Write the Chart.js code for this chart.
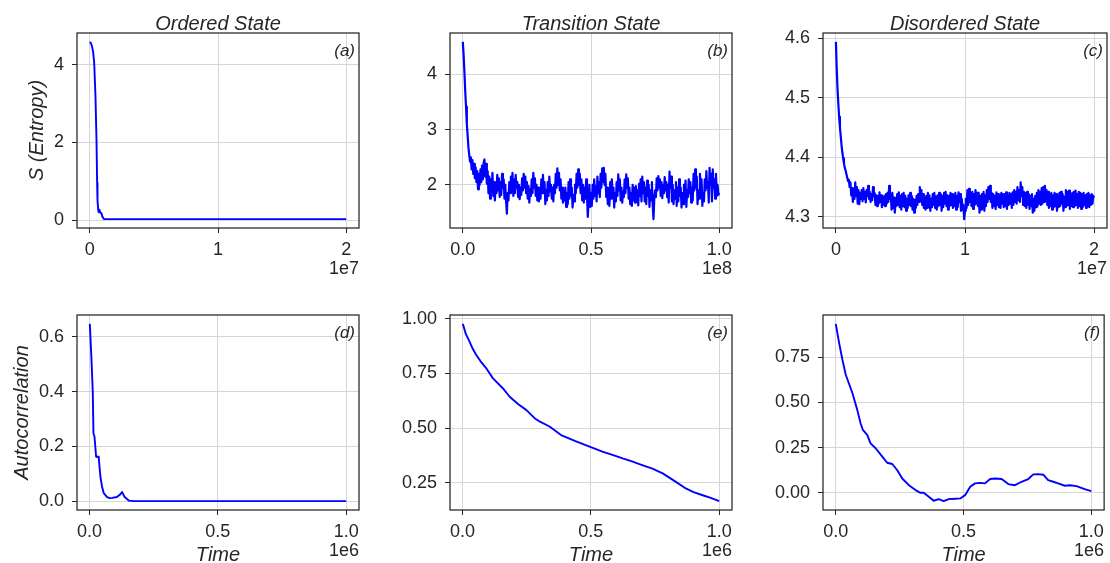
<!DOCTYPE html>
<html>
<head>
<meta charset="utf-8">
<script src="https://cdn.jsdelivr.net/npm/chart.js@4.4.0/dist/chart.umd.min.js"></script>
<style>
  html, body { margin: 0; padding: 0; background: #ffffff; }
  #fig { position: relative; width: 1110px; height: 563px; overflow: hidden; background: #ffffff; }
  #fig canvas { position: absolute; }
</style>
</head>
<body>
<div id="fig"></div>
<script>
// ---------- entropy traces ----------
// Ordered state: entropy vs time (steps)
const orderedTime = [0, 8e4, 1.55e5, 2.2e5, 2.6e5, 3.4e5, 4.4e5, 5.2e5, 5.7e5, 5.8e5,
  6.2e5, 6.7e5, 7.2e5, 7.5e5, 8.0e5, 9.0e5, 9.8e5, 1.1e6, 2.0e6, 2.0e7];
const orderedEntropy = [4.59, 4.56, 4.49, 4.40, 4.32, 4.06, 3.20, 2.08, 0.96, 0.90,
  0.50, 0.22, 0.20, 0.27, 0.20, 0.18, 0.09, 0.03, 0.025, 0.025];

// Transition state: entropy sampled every TRANSITION_DT steps
const TRANSITION_DT = 3.125e5;
const transitionEntropy = [
  4.59, 4.35, 4.05, 3.70, 3.42, 3.10, 2.90, 2.68, 2.55, 2.42, 2.50, 2.28, 2.45, 2.20, 2.38, 2.12,
  2.32, 2.05, 2.25, 1.92, 2.20, 2.00, 2.28, 2.05, 2.35, 2.10, 2.40, 2.46, 2.15, 2.38, 2.02, 2.25,
  1.85, 2.15, 1.75, 2.10, 1.90, 2.22, 1.80, 2.05, 1.72, 2.00, 1.85, 2.18, 1.90, 2.12, 1.78, 2.05,
  1.82, 2.20, 1.95, 2.10, 1.75, 2.00, 1.70, 1.48, 1.85, 1.72, 2.05, 1.85, 2.15, 1.90, 2.22, 1.80,
  2.10, 1.85, 2.18, 1.95, 2.05, 1.78, 2.00, 1.74, 1.95, 1.82, 2.12, 1.90, 2.20, 1.95, 2.15, 1.85,
  2.05, 1.75, 1.98, 1.68, 1.92, 1.80, 2.10, 1.85, 2.22, 1.95, 2.12, 1.80, 2.00, 1.72, 1.95, 1.70,
  1.88, 1.75, 2.10, 1.85, 2.18, 1.90, 2.05, 1.65, 1.90, 1.72, 2.05, 1.80, 2.15, 1.88, 2.00, 1.75,
  1.95, 1.70, 2.00, 1.85, 2.20, 1.95, 2.30, 2.00, 2.22, 1.90, 2.10, 1.75, 1.95, 1.68, 1.85, 1.72,
  1.95, 1.60, 1.85, 1.65, 2.05, 1.75, 2.10, 1.80, 1.95, 1.59, 1.82, 1.70, 2.00, 1.85, 2.20, 1.95,
  2.28, 2.00, 2.20, 1.85, 2.10, 1.72, 2.00, 1.68, 1.95, 1.75, 2.10, 1.80, 1.42, 1.70, 2.00, 1.60,
  1.85, 1.62, 2.00, 1.75, 2.10, 1.80, 1.98, 1.70, 2.15, 1.85, 2.05, 1.78, 2.20, 1.95, 2.30, 2.05,
  2.31, 2.00, 2.20, 1.78, 1.95, 1.65, 1.90, 1.62, 2.05, 1.75, 2.10, 1.82, 1.95, 1.59, 1.85, 1.70,
  2.05, 1.80, 2.19, 1.90, 2.10, 1.72, 1.95, 1.68, 1.88, 1.78, 2.10, 1.85, 2.19, 1.95, 2.12, 1.75,
  1.95, 1.65, 1.85, 1.62, 2.00, 1.72, 1.95, 1.68, 1.98, 1.75, 1.90, 1.63, 2.02, 1.80, 2.10, 1.70,
  2.15, 1.85, 2.05, 1.70, 1.95, 1.65, 2.08, 1.80, 2.00, 1.60, 1.90, 1.72, 2.05, 1.65, 1.38, 1.75,
  1.90, 1.78, 2.12, 1.90, 2.16, 1.95, 2.10, 1.80, 2.05, 1.76, 2.00, 1.85, 2.14, 1.90, 2.05, 1.78,
  2.00, 1.68, 2.24, 1.95, 2.15, 1.70, 2.00, 1.65, 1.90, 1.75, 2.05, 1.62, 1.95, 1.70, 2.10, 1.80,
  1.95, 1.59, 1.85, 1.65, 2.00, 1.75, 2.08, 1.60, 1.90, 1.78, 2.10, 1.85, 2.05, 1.68, 1.95, 1.72,
  2.20, 1.90, 2.28, 1.95, 2.15, 1.65, 1.90, 1.75, 2.20, 1.95, 2.10, 1.62, 1.85, 1.70, 2.10, 1.90,
  2.25, 1.95, 2.05, 1.68, 2.31, 2.00, 2.20, 1.70, 2.28, 1.95, 2.10, 1.75, 2.20, 1.80, 2.00, 1.82,
  1.86
];

// Disordered state: entropy sampled every DISORDERED_DT steps
const DISORDERED_DT = 6.25e4;
const disorderedEntropy = [
  4.594, 4.550, 4.515, 4.490, 4.468, 4.450, 4.435, 4.420, 4.408, 4.398, 4.390, 4.382, 4.378, 4.372, 4.366, 4.360,
  4.362, 4.350, 4.358, 4.336, 4.348, 4.325, 4.345, 4.330, 4.358, 4.335, 4.350, 4.322, 4.345, 4.321, 4.340, 4.330,
  4.345, 4.326, 4.348, 4.330, 4.342, 4.324, 4.345, 4.335, 4.352, 4.330, 4.342, 4.325, 4.338, 4.328, 4.350, 4.335,
  4.340, 4.320, 4.336, 4.318, 4.335, 4.322, 4.341, 4.325, 4.336, 4.316, 4.332, 4.320, 4.335, 4.318, 4.338, 4.322,
  4.340, 4.325, 4.352, 4.330, 4.338, 4.312, 4.340, 4.315, 4.332, 4.307, 4.330, 4.318, 4.338, 4.320, 4.341, 4.316,
  4.335, 4.312, 4.338, 4.318, 4.340, 4.316, 4.335, 4.310, 4.330, 4.315, 4.336, 4.320, 4.340, 4.318, 4.335, 4.312,
  4.330, 4.307, 4.328, 4.315, 4.335, 4.320, 4.338, 4.325, 4.350, 4.330, 4.345, 4.320, 4.338, 4.315, 4.332, 4.312,
  4.335, 4.315, 4.340, 4.318, 4.336, 4.310, 4.330, 4.316, 4.338, 4.320, 4.340, 4.315, 4.334, 4.312, 4.336, 4.318,
  4.340, 4.320, 4.338, 4.310, 4.335, 4.316, 4.340, 4.322, 4.342, 4.318, 4.336, 4.312, 4.335, 4.318, 4.340, 4.320,
  4.338, 4.315, 4.336, 4.318, 4.340, 4.312, 4.335, 4.316, 4.341, 4.325, 4.338, 4.310, 4.330, 4.312, 4.320, 4.296,
  4.310, 4.330, 4.315, 4.345, 4.320, 4.347, 4.325, 4.340, 4.318, 4.342, 4.313, 4.338, 4.320, 4.345, 4.322, 4.340,
  4.318, 4.340, 4.307, 4.335, 4.312, 4.338, 4.315, 4.342, 4.310, 4.336, 4.318, 4.345, 4.325, 4.350, 4.330, 4.352,
  4.325, 4.340, 4.315, 4.338, 4.318, 4.335, 4.313, 4.341, 4.320, 4.338, 4.316, 4.336, 4.315, 4.340, 4.322, 4.338,
  4.316, 4.338, 4.318, 4.341, 4.313, 4.336, 4.320, 4.340, 4.322, 4.338, 4.315, 4.341, 4.320, 4.345, 4.325, 4.342,
  4.322, 4.350, 4.328, 4.345, 4.325, 4.358, 4.335, 4.350, 4.320, 4.342, 4.318, 4.340, 4.315, 4.342, 4.320, 4.338,
  4.313, 4.335, 4.318, 4.338, 4.307, 4.330, 4.310, 4.335, 4.316, 4.340, 4.318, 4.345, 4.322, 4.342, 4.320, 4.348,
  4.322, 4.350, 4.325, 4.352, 4.330, 4.345, 4.320, 4.342, 4.315, 4.338, 4.318, 4.340, 4.312, 4.336, 4.316, 4.340,
  4.318, 4.338, 4.310, 4.335, 4.316, 4.340, 4.318, 4.342, 4.322, 4.338, 4.310, 4.334, 4.316, 4.345, 4.318, 4.342,
  4.320, 4.344, 4.313, 4.338, 4.318, 4.340, 4.316, 4.342, 4.318, 4.344, 4.320, 4.338, 4.315, 4.342, 4.318, 4.340,
  4.313, 4.338, 4.316, 4.340, 4.320, 4.336, 4.315, 4.338, 4.318, 4.340, 4.316, 4.336, 4.320, 4.338, 4.322, 4.335,
  4.332
];

// ---------- autocorrelation curves (lag in steps) ----------
const orderedLag = [1.3e3, 7.8e3, 1.29e4, 1.55e4, 1.94e4, 2.59e4, 3.36e4, 3.62e4, 4.27e4, 4.92e4,
  5.56e4, 6.86e4, 7.89e4, 8.8e4, 1.07e5, 1.18e5, 1.27e5, 1.37e5, 1.53e5, 1.72e5, 1.0e6];
const orderedAcf = [0.647, 0.518, 0.395, 0.248, 0.236, 0.162, 0.162, 0.156, 0.088, 0.052,
  0.029, 0.015, 0.011, 0.012, 0.015, 0.023, 0.033, 0.015, 0.002, 0.0, 0.0];

const transitionLag = [1.3e3, 1.3e4, 2.7e4, 4.0e4, 5.3e4, 7.0e4, 9.2e4, 1.18e5, 1.57e5, 1.83e5,
  2.16e5, 2.48e5, 2.81e5, 3.0e5, 3.39e5, 3.84e5, 4.4e5, 4.95e5, 5.45e5, 5.9e5,
  6.24e5, 6.6e5, 7.0e5, 7.4e5, 7.8e5, 8.3e5, 8.7e5, 9.0e5, 9.36e5, 9.7e5, 1.0e6];
const transitionAcf = [0.976, 0.930, 0.896, 0.862, 0.835, 0.806, 0.774, 0.728, 0.682, 0.644,
  0.610, 0.583, 0.545, 0.530, 0.507, 0.468, 0.440, 0.415, 0.392, 0.375,
  0.361, 0.348, 0.331, 0.315, 0.293, 0.255, 0.224, 0.207, 0.193, 0.180, 0.166];

const disorderedLag = [0, 1.3e4, 2.6e4, 3.9e4, 6.5e4, 8.4e4, 9.7e4, 1.06e5, 1.23e5, 1.36e5,
  1.56e5, 1.82e5, 2.01e5, 2.21e5, 2.40e5, 2.60e5, 2.86e5, 3.12e5, 3.31e5, 3.44e5,
  3.64e5, 3.83e5, 4.03e5, 4.22e5, 4.42e5, 4.68e5, 4.87e5, 5.06e5, 5.26e5, 5.45e5,
  5.65e5, 5.84e5, 6.04e5, 6.23e5, 6.49e5, 6.75e5, 7.01e5, 7.27e5, 7.53e5, 7.73e5,
  7.92e5, 8.12e5, 8.31e5, 8.51e5, 8.70e5, 8.96e5, 9.16e5, 9.42e5, 9.74e5, 1.0e6];
const disorderedAcf = [0.933, 0.828, 0.735, 0.652, 0.551, 0.458, 0.384, 0.347, 0.320, 0.273,
  0.246, 0.200, 0.166, 0.159, 0.126, 0.079, 0.042, 0.015, 0.000, 0.000,
  -0.022, -0.044, -0.035, -0.046, -0.035, -0.033, -0.031, -0.013, 0.033, 0.052,
  0.055, 0.052, 0.076, 0.079, 0.076, 0.048, 0.042, 0.061, 0.076, 0.102,
  0.103, 0.100, 0.070, 0.061, 0.052, 0.039, 0.042, 0.037, 0.020, 0.009];

// ---------- tick positions and labels ----------
const ticks2e7 = [0, 1e7, 2e7];
const ticks2e7Labels = ['0', '1', '2'];
const ticks1e8 = [0, 5e7, 1e8];
const ticks1e8Labels = ['0.0', '0.5', '1.0'];
const ticks1e6 = [0, 5e5, 1e6];
const ticks1e6Labels = ['0.0', '0.5', '1.0'];

const yTicksOrdered = [0, 2, 4];
const yLabelsOrdered = ['0', '2', '4'];
const yTicksTransition = [2, 3, 4];
const yLabelsTransition = ['2', '3', '4'];
const yTicksDisordered = [4.3, 4.4, 4.5, 4.6];
const yLabelsDisordered = ['4.3', '4.4', '4.5', '4.6'];
const yTicksAcfOrdered = [0, 0.2, 0.4, 0.6];
const yLabelsAcfOrdered = ['0.0', '0.2', '0.4', '0.6'];
const yTicksAcfTransition = [0.25, 0.5, 0.75, 1.0];
const yLabelsAcfTransition = ['0.25', '0.50', '0.75', '1.00'];
const yTicksAcfDisordered = [0, 0.25, 0.5, 0.75];
const yLabelsAcfDisordered = ['0.00', '0.25', '0.50', '0.75'];

// ---------- styling ----------
const FONT = "'Liberation Sans', Arial, Helvetica, sans-serif";
const INK = '#262626';
const GRID = '#d6d6d6';
const LINE = '#0000ff';

function sampledTimes(values, dt) {
  return values.map((_, i) => i * dt);
}

// matplotlib-like autoscale with 5% margins
function autoscale(vals) {
  const lo = Math.min(...vals), hi = Math.max(...vals);
  const m = (hi - lo) * 0.05;
  return [lo - m, hi + m];
}

const transitionTime = sampledTimes(transitionEntropy, TRANSITION_DT);
const disorderedTime = sampledTimes(disorderedEntropy, DISORDERED_DT);

// cell = canvas box [left, top, right, bottom]; frame = axes box in page pixels
const panels = [
  { cell: [0, 0, 370, 282], frame: [77, 33, 359, 228],
    xs: orderedTime, ys: orderedEntropy, width: 1.9,
    xTicks: ticks2e7, xLabels: ticks2e7Labels, offset: '1e7',
    yTicks: yTicksOrdered, yLabels: yLabelsOrdered,
    title: 'Ordered State', tag: '(a)', ylabel: 'S (Entropy)', ylabelGap: 34 },
  { cell: [370, 0, 741, 282], frame: [450, 33, 732, 228],
    xs: transitionTime, ys: transitionEntropy, width: 2.2,
    xTicks: ticks1e8, xLabels: ticks1e8Labels, offset: '1e8',
    yTicks: yTicksTransition, yLabels: yLabelsTransition,
    title: 'Transition State', tag: '(b)' },
  { cell: [741, 0, 1110, 282], frame: [823, 33, 1107, 228],
    xs: disorderedTime, ys: disorderedEntropy, width: 2.2,
    xTicks: ticks2e7, xLabels: ticks2e7Labels, offset: '1e7',
    yTicks: yTicksDisordered, yLabels: yLabelsDisordered,
    title: 'Disordered State', tag: '(c)' },
  { cell: [0, 282, 370, 563], frame: [77, 315, 359, 510],
    xs: orderedLag, ys: orderedAcf, width: 1.9,
    xTicks: ticks1e6, xLabels: ticks1e6Labels, offset: '1e6',
    yTicks: yTicksAcfOrdered, yLabels: yLabelsAcfOrdered,
    tag: '(d)', xlabel: 'Time', ylabel: 'Autocorrelation', ylabelGap: 49 },
  { cell: [370, 282, 741, 563], frame: [450, 315, 732, 510],
    xs: transitionLag, ys: transitionAcf, width: 1.9,
    xTicks: ticks1e6, xLabels: ticks1e6Labels, offset: '1e6',
    yTicks: yTicksAcfTransition, yLabels: yLabelsAcfTransition,
    tag: '(e)', xlabel: 'Time' },
  { cell: [741, 282, 1110, 563], frame: [823, 315, 1107, 510],
    xs: disorderedLag, ys: disorderedAcf, width: 1.9,
    xTicks: ticks1e6, xLabels: ticks1e6Labels, offset: '1e6',
    yTicks: yTicksAcfDisordered, yLabels: yLabelsAcfDisordered,
    tag: '(f)', xlabel: 'Time' }
];

// axes frame, titles, panel tags, offset text and axis labels
const decor = {
  id: 'decor',
  afterDraw(chart, args, o) {
    const ctx = chart.ctx, a = chart.chartArea;
    ctx.save();
    ctx.strokeStyle = INK;
    ctx.lineWidth = 1.25;
    ctx.strokeRect(a.left, a.top, a.right - a.left, a.bottom - a.top);
    ctx.fillStyle = INK;
    if (o.title) {
      ctx.font = `italic 20px ${FONT}`;
      ctx.textAlign = 'center';
      ctx.textBaseline = 'alphabetic';
      ctx.fillText(o.title, (a.left + a.right) / 2, a.top - 3.5);
    }
    if (o.tag) {
      ctx.font = `italic 17px ${FONT}`;
      ctx.textAlign = 'right';
      ctx.textBaseline = 'alphabetic';
      ctx.fillText(o.tag, a.right - 4, a.top + 23);
    }
    if (o.offset) {
      ctx.font = `18px ${FONT}`;
      ctx.textAlign = 'right';
      ctx.textBaseline = 'middle';
      ctx.fillText(o.offset, a.right, a.bottom + 41);
    }
    if (o.xlabel) {
      ctx.font = `italic 20px ${FONT}`;
      ctx.textAlign = 'center';
      ctx.textBaseline = 'alphabetic';
      ctx.fillText(o.xlabel, (a.left + a.right) / 2, a.bottom + 51);
    }
    if (o.ylabel) {
      ctx.font = `italic 20px ${FONT}`;
      ctx.textAlign = 'center';
      ctx.textBaseline = 'alphabetic';
      ctx.translate(a.left - o.ylabelGap, (a.top + a.bottom) / 2);
      ctx.rotate(-Math.PI / 2);
      ctx.fillText(o.ylabel, 0, 0);
    }
    ctx.restore();
  }
};

const fig = document.getElementById('fig');

panels.forEach(p => {
  const [cl, ct, cr, cb] = p.cell;
  const [fl, ft, fr, fb] = p.frame;
  const canvas = document.createElement('canvas');
  canvas.width = cr - cl;
  canvas.height = cb - ct;
  canvas.style.left = cl + 'px';
  canvas.style.top = ct + 'px';
  canvas.style.width = (cr - cl) + 'px';
  canvas.style.height = (cb - ct) + 'px';
  fig.appendChild(canvas);

  const [xmin, xmax] = autoscale(p.xs);
  const [ymin, ymax] = autoscale(p.ys);
  const points = p.xs.map((x, i) => ({ x: x, y: p.ys[i] }));

  new Chart(canvas, {
    type: 'line',
    data: {
      datasets: [{
        data: points,
        borderColor: LINE,
        borderWidth: p.width,
        borderJoinStyle: 'round',
        borderCapStyle: 'butt',
        pointRadius: 0,
        tension: 0,
        fill: false
      }]
    },
    options: {
      responsive: false,
      animation: false,
      devicePixelRatio: 1,
      events: [],
      layout: { padding: { left: 0, top: ft - ct, right: cr - fr, bottom: 0 } },
      plugins: {
        legend: { display: false },
        tooltip: { enabled: false },
        title: { display: false },
        decor: { title: p.title, tag: p.tag, offset: p.offset, xlabel: p.xlabel,
                 ylabel: p.ylabel, ylabelGap: p.ylabelGap }
      },
      scales: {
        x: {
          type: 'linear',
          min: xmin, max: xmax,
          afterFit(s) { s.height = cb - fb; },
          afterBuildTicks(s) { s.ticks = p.xTicks.map(v => ({ value: v })); },
          ticks: {
            callback: (v, i) => p.xLabels[i],
            font: { family: FONT, size: 18 },
            color: INK, padding: 6, maxRotation: 0, autoSkip: false
          },
          grid: { color: GRID, tickColor: INK, tickLength: 5, lineWidth: 1 },
          border: { display: false }
        },
        y: {
          type: 'linear',
          min: ymin, max: ymax,
          afterFit(s) { s.width = fl - cl; },
          afterBuildTicks(s) { s.ticks = p.yTicks.map(v => ({ value: v })); },
          ticks: {
            callback: (v, i) => p.yLabels[i],
            font: { family: FONT, size: 18 },
            color: INK, padding: 8, autoSkip: false
          },
          grid: { color: GRID, tickColor: INK, tickLength: 5, lineWidth: 1 },
          border: { display: false }
        }
      }
    },
    plugins: [decor]
  });
});
</script>
</body>
</html>
